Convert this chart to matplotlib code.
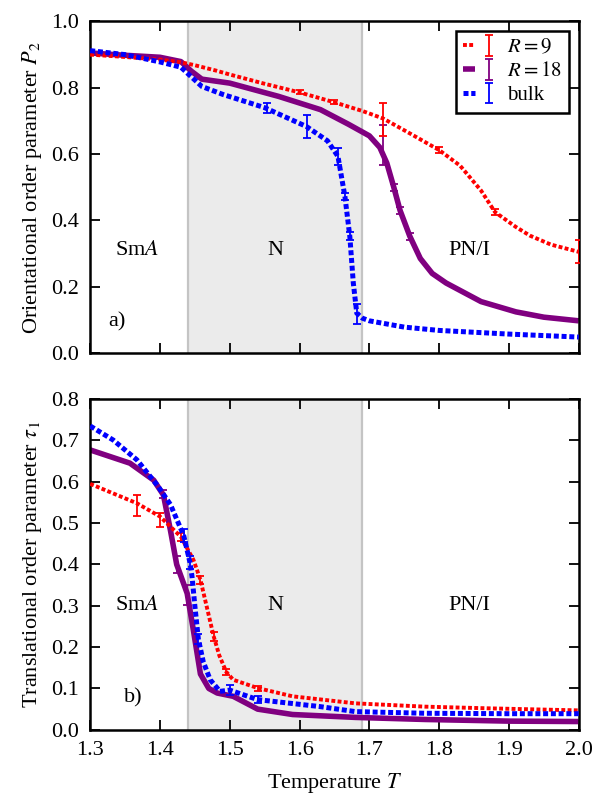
import matplotlib
matplotlib.use("Agg")
import matplotlib.pyplot as plt
from matplotlib.legend_handler import HandlerTuple

plt.rcParams['font.family'] = ['Liberation Serif', 'DejaVu Serif']
plt.rcParams['mathtext.fontset'] = 'stix'
plt.rcParams['font.size'] = 16

# phase boundaries
t_sma_n = 1.44
t_n_pn = 1.69

# ---- top panel: orientational order P2 ----
t_r9_top = [1.30, 1.35, 1.40, 1.43, 1.45, 1.48, 1.50, 1.55, 1.60, 1.65, 1.69, 1.72, 1.76,
            1.80, 1.83, 1.86, 1.88, 1.91, 1.93, 1.96, 2.00]
p2_r9 = [0.900, 0.893, 0.885, 0.877, 0.868, 0.852, 0.840, 0.812, 0.786, 0.756, 0.730, 0.707,
         0.660, 0.612, 0.565, 0.490, 0.425, 0.380, 0.354, 0.327, 0.305]

t_r18_top = [1.30, 1.35, 1.40, 1.43, 1.445, 1.46, 1.50, 1.57, 1.63, 1.67, 1.70, 1.715, 1.725,
             1.735, 1.744, 1.758, 1.773, 1.79, 1.81, 1.86, 1.91, 1.95, 2.00]
p2_r18 = [0.905, 0.898, 0.892, 0.879, 0.850, 0.826, 0.814, 0.774, 0.734, 0.690, 0.655, 0.620,
          0.573, 0.500, 0.430, 0.352, 0.285, 0.240, 0.211, 0.155, 0.124, 0.108, 0.097]

t_bulk_top = [1.30, 1.35, 1.40, 1.43, 1.46, 1.49, 1.55, 1.61, 1.64, 1.655, 1.665, 1.672, 1.677,
              1.682, 1.69, 1.70, 1.75, 1.80, 1.90, 2.00]
p2_bulk = [0.912, 0.900, 0.878, 0.862, 0.804, 0.780, 0.740, 0.683, 0.640, 0.593, 0.472, 0.352,
           0.211, 0.120, 0.105, 0.097, 0.078, 0.068, 0.057, 0.048]

# error bars (top)
t_r9_err_top = [1.60, 1.65, 1.72, 1.80, 1.88, 2.00]
p2_r9_err = [0.786, 0.756, 0.705, 0.612, 0.425, 0.305]
e_r9_top = [0.006, 0.006, 0.050, 0.008, 0.010, 0.035]

t_r18_err_top = [1.72, 1.735, 1.744, 1.758]
p2_r18_err = [0.628, 0.500, 0.430, 0.352]
e_r18_top = [0.060, 0.010, 0.010, 0.010]

t_bulk_err_top = [1.553, 1.61, 1.655, 1.665, 1.672, 1.682]
p2_bulk_err = [0.739, 0.683, 0.593, 0.472, 0.352, 0.118]
e_bulk_top = [0.015, 0.035, 0.025, 0.012, 0.012, 0.030]

# ---- bottom panel: translational order tau1 ----
t_r9_bot = [1.30, 1.367, 1.40, 1.43, 1.448, 1.458, 1.467, 1.477, 1.485, 1.495, 1.505, 1.54,
            1.59, 1.68, 1.78, 1.87, 2.00]
tau_r9 = [0.595, 0.548, 0.516, 0.467, 0.411, 0.363, 0.298, 0.226, 0.180, 0.140, 0.121, 0.101,
          0.081, 0.064, 0.056, 0.052, 0.047]

t_r18_bot = [1.30, 1.357, 1.391, 1.405, 1.415, 1.424, 1.439, 1.448, 1.458, 1.470, 1.482, 1.505,
             1.54, 1.59, 1.68, 1.78, 1.90, 2.00]
tau_r18 = [0.677, 0.645, 0.604, 0.568, 0.483, 0.400, 0.330, 0.240, 0.135, 0.100, 0.089, 0.081,
           0.050, 0.037, 0.030, 0.025, 0.021, 0.020]

t_bulk_bot = [1.30, 1.333, 1.367, 1.396, 1.415, 1.434, 1.443, 1.446, 1.450, 1.455, 1.462, 1.472,
              1.486, 1.50, 1.54, 1.63, 1.68, 1.78, 1.90, 2.00]
tau_bulk = [0.735, 0.701, 0.653, 0.592, 0.545, 0.470, 0.405, 0.370, 0.300, 0.220, 0.165, 0.121,
            0.093, 0.096, 0.073, 0.056, 0.044, 0.040, 0.039, 0.039]

t_r9_err_bot = [1.367, 1.40, 1.43, 1.458, 1.477, 1.495, 1.54]
tau_r9_err = [0.542, 0.507, 0.467, 0.363, 0.226, 0.140, 0.101]
e_r9_bot = [0.026, 0.017, 0.010, 0.010, 0.010, 0.008, 0.006]

t_r18_err_bot = [1.405, 1.424, 1.439]
tau_r18_err = [0.570, 0.400, 0.326]
e_r18_bot = [0.010, 0.020, 0.025]

t_bulk_err_bot = [1.434, 1.443, 1.455, 1.50, 1.54]
tau_bulk_err = [0.470, 0.405, 0.220, 0.097, 0.073]
e_bulk_bot = [0.015, 0.015, 0.012, 0.012, 0.008]

# phase labels
phase_names = ['Sm$A$', 'N', 'PN/I']
phase_t = [1.367, 1.565, 1.843]

c_r9 = '#ff0000'
c_r18 = '#800080'
c_bulk = '#0000ff'

fig = plt.figure(figsize=(5.93, 7.95), dpi=100)
ax1 = fig.add_axes([0.152, 0.556, 0.824, 0.417])
ax2 = fig.add_axes([0.152, 0.082, 0.824, 0.416])


def draw(ax, t9, y9, t18, y18, tb, yb, errs):
    ax.axvspan(t_sma_n, t_n_pn, color='#ebebeb', zorder=0, lw=0)
    ax.axvline(t_sma_n, color='#c4c4c4', lw=1.6, zorder=0.5)
    ax.axvline(t_n_pn, color='#c4c4c4', lw=1.6, zorder=0.5)
    l9, = ax.plot(t9, y9, color=c_r9, lw=2.8, dashes=(1, 0.6), zorder=3)
    l18, = ax.plot(t18, y18, color=c_r18, lw=4.0, solid_capstyle='butt', zorder=2)
    lb, = ax.plot(tb, yb, color=c_bulk, lw=3.6, dashes=(1, 0.55), zorder=4)
    conts = []
    for (te, ye, ee), col, z in zip(errs, (c_r9, c_r18, c_bulk), (3, 2, 4)):
        eb = ax.errorbar(te, ye, yerr=ee, fmt='none', ecolor=col, elinewidth=1.3,
                         capsize=3, capthick=1.3, zorder=z)
        conts.append(eb)
    ax.set_xlim(1.3, 2.0)
    ax.tick_params(direction='in', top=True, right=True, length=7, width=1.3, pad=8)
    for s in ax.spines.values():
        s.set_linewidth(1.8)
    return (l9, l18, lb), conts


lines, conts = draw(ax1, t_r9_top, p2_r9, t_r18_top, p2_r18, t_bulk_top, p2_bulk,
                    [(t_r9_err_top, p2_r9_err, e_r9_top),
                     (t_r18_err_top, p2_r18_err, e_r18_top),
                     (t_bulk_err_top, p2_bulk_err, e_bulk_top)])
ax1.set_ylim(0, 1.0)
ax1.set_yticks([0.0, 0.2, 0.4, 0.6, 0.8, 1.0])
ax1.set_xticks([1.3, 1.4, 1.5, 1.6, 1.7, 1.8, 1.9, 2.0])
ax1.set_xticklabels([])
ax1.set_ylabel('Orientational order parameter $P_2$', labelpad=5)
for name, t in zip(phase_names, phase_t):
    ax1.text(t, 0.31, name, ha='center', va='center')
ax1.text(1.339, 0.094, 'a)', ha='center', va='center')

handles = [(lines[0], conts[0]), (lines[1], conts[1]), (lines[2], conts[2])]
leg = ax1.legend(handles, ['$R = 9$', '$R = 18$', 'bulk'], loc='upper right',
                 handler_map={tuple: HandlerTuple(ndivide=None)},
                 fancybox=False, framealpha=1, edgecolor='black', handlelength=1.5,
                 borderaxespad=0.45, labelspacing=0.2, handletextpad=0.6,
                 borderpad=0.35, fontsize=15)
leg.get_frame().set_linewidth(1.8)

draw(ax2, t_r9_bot, tau_r9, t_r18_bot, tau_r18, t_bulk_bot, tau_bulk,
     [(t_r9_err_bot, tau_r9_err, e_r9_bot),
      (t_r18_err_bot, tau_r18_err, e_r18_bot),
      (t_bulk_err_bot, tau_bulk_err, e_bulk_bot)])
ax2.set_ylim(0, 0.8)
ax2.set_yticks([0.0, 0.1, 0.2, 0.3, 0.4, 0.5, 0.6, 0.7, 0.8])
ax2.set_xticks([1.3, 1.4, 1.5, 1.6, 1.7, 1.8, 1.9, 2.0])
ax2.set_xlabel('Temperature $T$', labelpad=8)
ax2.set_ylabel(r'Translational order parameter $\tau_1$', labelpad=5)
for name, t in zip(phase_names, phase_t):
    ax2.text(t, 0.30, name, ha='center', va='center')
ax2.text(1.362, 0.077, 'b)', ha='center', va='center')

fig.savefig('out.png', dpi=100)
